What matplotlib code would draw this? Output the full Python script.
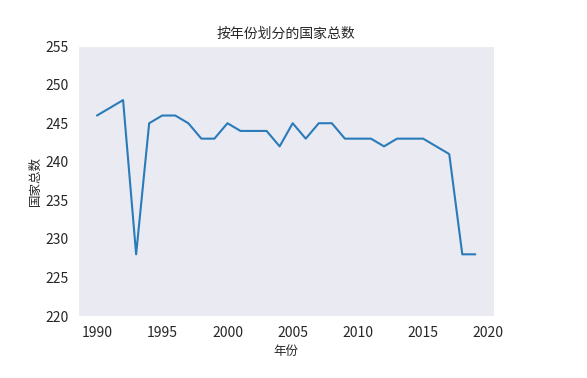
import matplotlib
matplotlib.use("Agg")
import matplotlib.pyplot as plt
import seaborn as sns

years = list(range(1990, 2020))
counts = [246, 247, 248, 228, 245, 246, 246, 245, 243, 243,
          245, 244, 244, 244, 242, 245, 243, 245, 245, 243,
          243, 243, 242, 243, 243, 243, 242, 241, 228, 228]

sns.set_style("dark")
plt.rcParams['font.family'] = ['Noto Sans CJK SC', 'DejaVu Sans']

fig, ax = plt.subplots(figsize=(5.87, 3.78), dpi=100)
fig.subplots_adjust(left=0.133, right=0.842, top=0.878, bottom=0.164)

ax.plot(years, counts, color='#2a7bb9', linewidth=1.5)
ax.set_ylim(220, 255)
ax.set_xticks([1990, 1995, 2000, 2005, 2010, 2015, 2020])

ax.set_title("按年份划分的国家总数", fontsize=10)
ax.set_xlabel("年份", fontsize=9)
ax.set_ylabel("国家总数", fontsize=9, labelpad=2)
ax.tick_params(labelsize=10)

fig.savefig("out.png", dpi=100)
